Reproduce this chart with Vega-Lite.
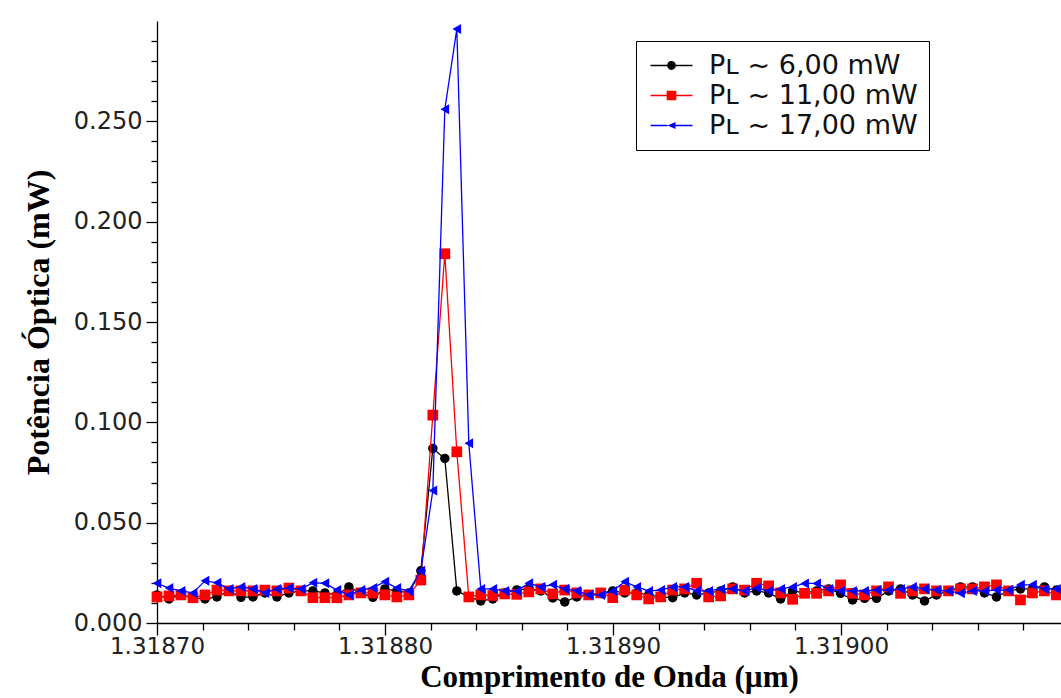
{
"$schema": "https://vega.github.io/schema/vega-lite/v6.json",
"width": 904, "height": 602,
"autosize": {"type": "none"},
"padding": {"left": 157, "top": 21, "right": 0, "bottom": 75},
"background": "white",
"config": {"view": {"stroke": null}},
"data": {"values": [
{"w":1.3187,"p":0.014,"s":"a"},{"w":1.31870526,"p":0.012,"s":"a"},{"w":1.31871052,"p":0.014,"s":"a"},{"w":1.31871578,"p":0.0125,"s":"a"},{"w":1.31872104,"p":0.012,"s":"a"},{"w":1.3187263,"p":0.013,"s":"a"},{"w":1.31873156,"p":0.016,"s":"a"},{"w":1.31873682,"p":0.0128,"s":"a"},{"w":1.31874208,"p":0.013,"s":"a"},{"w":1.31874734,"p":0.015,"s":"a"},
{"w":1.3187526,"p":0.013,"s":"a"},{"w":1.31875786,"p":0.015,"s":"a"},{"w":1.31876312,"p":0.016,"s":"a"},{"w":1.31876838,"p":0.016,"s":"a"},{"w":1.31877364,"p":0.015,"s":"a"},{"w":1.3187789,"p":0.014,"s":"a"},{"w":1.31878416,"p":0.018,"s":"a"},{"w":1.31878942,"p":0.015,"s":"a"},{"w":1.31879468,"p":0.0128,"s":"a"},{"w":1.31879994,"p":0.017,"s":"a"},
{"w":1.3188052,"p":0.016,"s":"a"},{"w":1.31881046,"p":0.015,"s":"a"},{"w":1.31881572,"p":0.026,"s":"a"},{"w":1.31882098,"p":0.087,"s":"a"},{"w":1.31882624,"p":0.082,"s":"a"},{"w":1.3188315,"p":0.016,"s":"a"},{"w":1.31883676,"p":0.013,"s":"a"},{"w":1.31884202,"p":0.011,"s":"a"},{"w":1.31884728,"p":0.012,"s":"a"},{"w":1.31885254,"p":0.015,"s":"a"},
{"w":1.3188578,"p":0.0165,"s":"a"},{"w":1.31886306,"p":0.017,"s":"a"},{"w":1.31886832,"p":0.016,"s":"a"},{"w":1.31887358,"p":0.0125,"s":"a"},{"w":1.31887884,"p":0.0105,"s":"a"},{"w":1.3188841,"p":0.013,"s":"a"},{"w":1.31888936,"p":0.014,"s":"a"},{"w":1.31889462,"p":0.015,"s":"a"},{"w":1.31889988,"p":0.016,"s":"a"},{"w":1.31890514,"p":0.015,"s":"a"},
{"w":1.3189104,"p":0.015,"s":"a"},{"w":1.31891566,"p":0.014,"s":"a"},{"w":1.31892092,"p":0.013,"s":"a"},{"w":1.31892618,"p":0.0126,"s":"a"},{"w":1.31893144,"p":0.015,"s":"a"},{"w":1.3189367,"p":0.014,"s":"a"},{"w":1.31894196,"p":0.015,"s":"a"},{"w":1.31894722,"p":0.016,"s":"a"},{"w":1.31895248,"p":0.018,"s":"a"},{"w":1.31895774,"p":0.015,"s":"a"},
{"w":1.318963,"p":0.016,"s":"a"},{"w":1.31896826,"p":0.015,"s":"a"},{"w":1.31897352,"p":0.012,"s":"a"},{"w":1.31897878,"p":0.016,"s":"a"},{"w":1.31898404,"p":0.015,"s":"a"},{"w":1.3189893,"p":0.016,"s":"a"},{"w":1.31899456,"p":0.017,"s":"a"},{"w":1.31899982,"p":0.0148,"s":"a"},{"w":1.31900508,"p":0.0115,"s":"a"},{"w":1.31901034,"p":0.0123,"s":"a"},
{"w":1.3190156,"p":0.0123,"s":"a"},{"w":1.31902086,"p":0.016,"s":"a"},{"w":1.31902612,"p":0.017,"s":"a"},{"w":1.31903138,"p":0.014,"s":"a"},{"w":1.31903664,"p":0.011,"s":"a"},{"w":1.3190419,"p":0.014,"s":"a"},{"w":1.31904716,"p":0.016,"s":"a"},{"w":1.31905242,"p":0.018,"s":"a"},{"w":1.31905768,"p":0.018,"s":"a"},{"w":1.31906294,"p":0.015,"s":"a"},
{"w":1.3190682,"p":0.013,"s":"a"},{"w":1.31907346,"p":0.016,"s":"a"},{"w":1.31907872,"p":0.017,"s":"a"},{"w":1.31908398,"p":0.017,"s":"a"},{"w":1.31908924,"p":0.018,"s":"a"},{"w":1.3190945,"p":0.0164,"s":"a"},
{"w":1.3187,"p":0.013,"s":"b"},{"w":1.31870526,"p":0.0135,"s":"b"},{"w":1.31871052,"p":0.014,"s":"b"},{"w":1.31871578,"p":0.0126,"s":"b"},{"w":1.31872104,"p":0.014,"s":"b"},{"w":1.3187263,"p":0.0164,"s":"b"},{"w":1.31873156,"p":0.016,"s":"b"},{"w":1.31873682,"p":0.016,"s":"b"},{"w":1.31874208,"p":0.016,"s":"b"},{"w":1.31874734,"p":0.0164,"s":"b"},
{"w":1.3187526,"p":0.016,"s":"b"},{"w":1.31875786,"p":0.0174,"s":"b"},{"w":1.31876312,"p":0.016,"s":"b"},{"w":1.31876838,"p":0.0126,"s":"b"},{"w":1.31877364,"p":0.0126,"s":"b"},{"w":1.3187789,"p":0.0126,"s":"b"},{"w":1.31878416,"p":0.014,"s":"b"},{"w":1.31878942,"p":0.015,"s":"b"},{"w":1.31879468,"p":0.015,"s":"b"},{"w":1.31879994,"p":0.014,"s":"b"},
{"w":1.3188052,"p":0.013,"s":"b"},{"w":1.31881046,"p":0.014,"s":"b"},{"w":1.31881572,"p":0.0214,"s":"b"},{"w":1.31882098,"p":0.1036,"s":"b"},{"w":1.31882624,"p":0.184,"s":"b"},{"w":1.3188315,"p":0.0853,"s":"b"},{"w":1.31883676,"p":0.013,"s":"b"},{"w":1.31884202,"p":0.014,"s":"b"},{"w":1.31884728,"p":0.0137,"s":"b"},{"w":1.31885254,"p":0.0145,"s":"b"},
{"w":1.3188578,"p":0.0143,"s":"b"},{"w":1.31886306,"p":0.0155,"s":"b"},{"w":1.31886832,"p":0.017,"s":"b"},{"w":1.31887358,"p":0.0145,"s":"b"},{"w":1.31887884,"p":0.0164,"s":"b"},{"w":1.3188841,"p":0.015,"s":"b"},{"w":1.31888936,"p":0.014,"s":"b"},{"w":1.31889462,"p":0.015,"s":"b"},{"w":1.31889988,"p":0.0126,"s":"b"},{"w":1.31890514,"p":0.0164,"s":"b"},
{"w":1.3189104,"p":0.014,"s":"b"},{"w":1.31891566,"p":0.012,"s":"b"},{"w":1.31892092,"p":0.013,"s":"b"},{"w":1.31892618,"p":0.0164,"s":"b"},{"w":1.31893144,"p":0.017,"s":"b"},{"w":1.3189367,"p":0.0198,"s":"b"},{"w":1.31894196,"p":0.013,"s":"b"},{"w":1.31894722,"p":0.0135,"s":"b"},{"w":1.31895248,"p":0.017,"s":"b"},{"w":1.31895774,"p":0.0164,"s":"b"},
{"w":1.318963,"p":0.0198,"s":"b"},{"w":1.31896826,"p":0.0185,"s":"b"},{"w":1.31897352,"p":0.015,"s":"b"},{"w":1.31897878,"p":0.0118,"s":"b"},{"w":1.31898404,"p":0.0148,"s":"b"},{"w":1.3189893,"p":0.0148,"s":"b"},{"w":1.31899456,"p":0.016,"s":"b"},{"w":1.31899982,"p":0.019,"s":"b"},{"w":1.31900508,"p":0.0148,"s":"b"},{"w":1.31901034,"p":0.014,"s":"b"},
{"w":1.3190156,"p":0.016,"s":"b"},{"w":1.31902086,"p":0.018,"s":"b"},{"w":1.31902612,"p":0.0148,"s":"b"},{"w":1.31903138,"p":0.016,"s":"b"},{"w":1.31903664,"p":0.017,"s":"b"},{"w":1.3190419,"p":0.016,"s":"b"},{"w":1.31904716,"p":0.016,"s":"b"},{"w":1.31905242,"p":0.017,"s":"b"},{"w":1.31905768,"p":0.017,"s":"b"},{"w":1.31906294,"p":0.018,"s":"b"},
{"w":1.3190682,"p":0.019,"s":"b"},{"w":1.31907346,"p":0.016,"s":"b"},{"w":1.31907872,"p":0.0115,"s":"b"},{"w":1.31908398,"p":0.015,"s":"b"},{"w":1.31908924,"p":0.016,"s":"b"},{"w":1.3190945,"p":0.014,"s":"b"},
{"w":1.3187,"p":0.0198,"s":"c"},{"w":1.31870526,"p":0.0174,"s":"c"},{"w":1.31871052,"p":0.016,"s":"c"},{"w":1.31871578,"p":0.015,"s":"c"},{"w":1.31872104,"p":0.021,"s":"c"},{"w":1.3187263,"p":0.02,"s":"c"},{"w":1.31873156,"p":0.017,"s":"c"},{"w":1.31873682,"p":0.018,"s":"c"},{"w":1.31874208,"p":0.017,"s":"c"},{"w":1.31874734,"p":0.015,"s":"c"},
{"w":1.3187526,"p":0.017,"s":"c"},{"w":1.31875786,"p":0.0174,"s":"c"},{"w":1.31876312,"p":0.017,"s":"c"},{"w":1.31876838,"p":0.02,"s":"c"},{"w":1.31877364,"p":0.0198,"s":"c"},{"w":1.3187789,"p":0.0164,"s":"c"},{"w":1.31878416,"p":0.014,"s":"c"},{"w":1.31878942,"p":0.0164,"s":"c"},{"w":1.31879468,"p":0.0175,"s":"c"},{"w":1.31879994,"p":0.0206,"s":"c"},
{"w":1.3188052,"p":0.0174,"s":"c"},{"w":1.31881046,"p":0.016,"s":"c"},{"w":1.31881572,"p":0.026,"s":"c"},{"w":1.31882098,"p":0.066,"s":"c"},{"w":1.31882624,"p":0.256,"s":"c"},{"w":1.3188315,"p":0.296,"s":"c"},{"w":1.31883676,"p":0.0896,"s":"c"},{"w":1.31884202,"p":0.017,"s":"c"},{"w":1.31884728,"p":0.017,"s":"c"},{"w":1.31885254,"p":0.016,"s":"c"},
{"w":1.3188578,"p":0.016,"s":"c"},{"w":1.31886306,"p":0.0198,"s":"c"},{"w":1.31886832,"p":0.018,"s":"c"},{"w":1.31887358,"p":0.019,"s":"c"},{"w":1.31887884,"p":0.017,"s":"c"},{"w":1.3188841,"p":0.016,"s":"c"},{"w":1.31888936,"p":0.014,"s":"c"},{"w":1.31889462,"p":0.014,"s":"c"},{"w":1.31889988,"p":0.016,"s":"c"},{"w":1.31890514,"p":0.0206,"s":"c"},
{"w":1.3189104,"p":0.018,"s":"c"},{"w":1.31891566,"p":0.016,"s":"c"},{"w":1.31892092,"p":0.0164,"s":"c"},{"w":1.31892618,"p":0.018,"s":"c"},{"w":1.31893144,"p":0.018,"s":"c"},{"w":1.3189367,"p":0.016,"s":"c"},{"w":1.31894196,"p":0.016,"s":"c"},{"w":1.31894722,"p":0.017,"s":"c"},{"w":1.31895248,"p":0.017,"s":"c"},{"w":1.31895774,"p":0.016,"s":"c"},
{"w":1.318963,"p":0.0175,"s":"c"},{"w":1.31896826,"p":0.016,"s":"c"},{"w":1.31897352,"p":0.017,"s":"c"},{"w":1.31897878,"p":0.018,"s":"c"},{"w":1.31898404,"p":0.0197,"s":"c"},{"w":1.3189893,"p":0.0197,"s":"c"},{"w":1.31899456,"p":0.017,"s":"c"},{"w":1.31899982,"p":0.016,"s":"c"},{"w":1.31900508,"p":0.016,"s":"c"},{"w":1.31901034,"p":0.016,"s":"c"},
{"w":1.3190156,"p":0.0164,"s":"c"},{"w":1.31902086,"p":0.0164,"s":"c"},{"w":1.31902612,"p":0.017,"s":"c"},{"w":1.31903138,"p":0.018,"s":"c"},{"w":1.31903664,"p":0.017,"s":"c"},{"w":1.3190419,"p":0.0164,"s":"c"},{"w":1.31904716,"p":0.016,"s":"c"},{"w":1.31905242,"p":0.0148,"s":"c"},{"w":1.31905768,"p":0.016,"s":"c"},{"w":1.31906294,"p":0.016,"s":"c"},
{"w":1.3190682,"p":0.0164,"s":"c"},{"w":1.31907346,"p":0.0164,"s":"c"},{"w":1.31907872,"p":0.019,"s":"c"},{"w":1.31908398,"p":0.019,"s":"c"},{"w":1.31908924,"p":0.017,"s":"c"},{"w":1.3190945,"p":0.017,"s":"c"}
]},
"encoding": {
 "x": {"field": "w", "type": "quantitative",
  "scale": {"domain": [1.3187, 1.3190965], "nice": false, "zero": false},
  "axis": {"title": "Comprimento de Onda (µm)", "grid": false,
   "values": [1.3187,1.31872,1.31874,1.31876,1.31878,1.3188,1.31882,1.31884,1.31886,1.31888,1.3189,1.31892,1.31894,1.31896,1.31898,1.319,1.31902,1.31904,1.31906,1.31908],
   "labelExpr": "abs(datum.value*10000 - round(datum.value*10000)) < 0.001 ? format(datum.value, '.5f') : ''",
   "tickSize": {"condition": {"test": "abs(datum.value*10000 - round(datum.value*10000)) < 0.001", "value": 12}, "value": 7},
   "labelFlush": false, "labelOverlap": false, "labelPadding": 0,
   "domainColor": "#000000", "domainWidth": 1.3, "tickColor": "#000000", "tickWidth": 1.3,
   "labelFont": "DejaVu Sans", "labelFontSize": 23, "labelColor": "#222222",
   "titleFont": "Liberation Serif", "titleFontWeight": "bold", "titleFontSize": 31, "titleColor": "#000000", "titlePadding": 4}},
 "y": {"field": "p", "type": "quantitative",
  "scale": {"domain": [0, 0.3], "nice": false},
  "axis": {"title": "Potência Óptica (mW)", "grid": false,
   "values": [0,0.01,0.02,0.03,0.04,0.05,0.06,0.07,0.08,0.09,0.1,0.11,0.12,0.13,0.14,0.15,0.16,0.17,0.18,0.19,0.2,0.21,0.22,0.23,0.24,0.25,0.26,0.27,0.28,0.29],
   "labelExpr": "abs(datum.value*20 - round(datum.value*20)) < 0.001 ? format(datum.value, '.3f') : ''",
   "tickSize": {"condition": {"test": "abs(datum.value*20 - round(datum.value*20)) < 0.001", "value": 11}, "value": 6},
   "labelOverlap": false, "labelPadding": 4, "labelFlush": false,
   "domainColor": "#000000", "domainWidth": 1.3, "tickColor": "#000000", "tickWidth": 1.3,
   "labelFont": "DejaVu Sans", "labelFontSize": 24, "labelColor": "#222222",
   "titleFont": "Liberation Serif", "titleFontWeight": "bold", "titleFontSize": 32, "titleColor": "#000000", "titlePadding": 18}}
},
"layer": [
 {"transform": [{"filter": "datum.s == 'a'"}],
  "mark": {"type": "line", "color": "#000000", "strokeWidth": 1.3, "point": {"shape": "circle", "size": 90, "filled": true, "color": "#000000", "opacity": 1}}},
 {"transform": [{"filter": "datum.s == 'b'"}],
  "mark": {"type": "line", "color": "#ff0000", "strokeWidth": 1.3, "point": {"shape": "square", "size": 115, "filled": true, "color": "#ff0000", "opacity": 1}}},
 {"transform": [{"filter": "datum.s == 'c'"}],
  "mark": {"type": "line", "color": "#0000ff", "strokeWidth": 1.3, "point": {"shape": "triangle-left", "size": 100, "filled": true, "color": "#0000ff", "opacity": 1}}},
 {"transform": [{"filter": "false"}],
  "mark": {"type": "point", "filled": true, "opacity": 1},
  "encoding": {
   "color": {"field": "s", "type": "nominal",
    "scale": {"domain": ["a", "b", "c"], "range": ["#000000", "#ff0000", "#0000ff"]},
    "legend": {"title": null, "orient": "none", "legendX": 479, "legendY": 20,
     "labelExpr": "datum.label == 'a' ? 'Pʟ ~ 6,00 mW' : datum.label == 'b' ? 'Pʟ ~ 11,00 mW' : 'Pʟ ~ 17,00 mW'",
     "labelFont": "DejaVu Sans", "labelFontSize": 27, "labelColor": "#111111", "labelLimit": 0,
     "symbolSize": 64, "symbolStrokeWidth": 0, "symbolOpacity": 1, "symbolOffset": 11, "labelOffset": 24,
     "padding": 11, "rowPadding": 2, "strokeColor": "#000000", "fillColor": "#ffffff"}},
   "shape": {"field": "s", "type": "nominal",
    "scale": {"domain": ["a", "b", "c"], "range": [
     "M-5.25,-0.16H-1.1V0.16H-5.25Z M1.1,-0.16H5.25V0.16H1.1Z M-1.1,0A1.1,1.1 0 1,0 1.1,0A1.1,1.1 0 1,0 -1.1,0Z",
     "M-5.25,-0.16H-1.2V0.16H-5.25Z M1.2,-0.16H5.25V0.16H1.2Z M-1.2,-1.2H1.2V1.2H-1.2Z",
     "M-5.25,-0.16H-1V0.16H-5.25Z M1,-0.16H5.25V0.16H1Z M-1,0L1,-0.85L1,0.85Z"]}}
  }}
]
}
